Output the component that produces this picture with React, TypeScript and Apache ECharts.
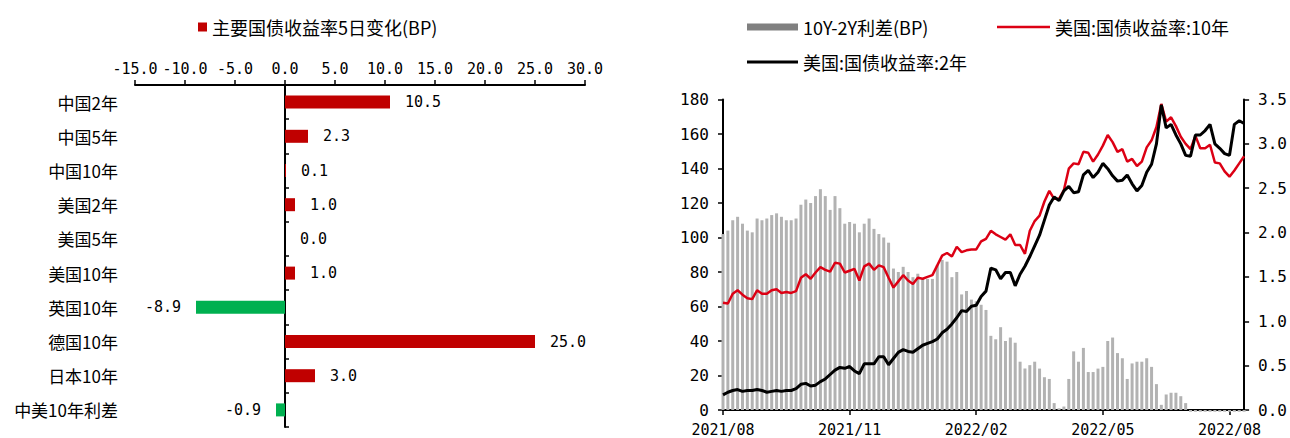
import React, { useEffect, useRef } from 'react';
import * as echarts from 'echarts';

// ---------- Left chart data ----------
const bondNames = ['中国2年', '中国5年', '中国10年', '美国2年', '美国5年', '美国10年', '英国10年', '德国10年', '日本10年', '中美10年利差'];
const bondChanges = [10.5, 2.3, 0.1, 1.0, 0.0, 1.0, -8.9, 25.0, 3.0, -0.9];

// ---------- Right chart data ----------
const dates = [
  '2021-08-02', '2021-08-05', '2021-08-09', '2021-08-12', '2021-08-16', '2021-08-19', '2021-08-23', '2021-08-26', '2021-08-30', '2021-09-02',
  '2021-09-06', '2021-09-09', '2021-09-13', '2021-09-16', '2021-09-20', '2021-09-23', '2021-09-27', '2021-09-30', '2021-10-04', '2021-10-07',
  '2021-10-11', '2021-10-14', '2021-10-18', '2021-10-21', '2021-10-25', '2021-10-28', '2021-11-01', '2021-11-04', '2021-11-08', '2021-11-11',
  '2021-11-15', '2021-11-18', '2021-11-22', '2021-11-25', '2021-11-29', '2021-12-02', '2021-12-06', '2021-12-09', '2021-12-13', '2021-12-16',
  '2021-12-20', '2021-12-23', '2021-12-27', '2021-12-30', '2022-01-03', '2022-01-06', '2022-01-10', '2022-01-13', '2022-01-17', '2022-01-20',
  '2022-01-24', '2022-01-27', '2022-02-01', '2022-02-03', '2022-02-07', '2022-02-10', '2022-02-14', '2022-02-17', '2022-02-21', '2022-02-24',
  '2022-02-28', '2022-03-03', '2022-03-07', '2022-03-10', '2022-03-14', '2022-03-17', '2022-03-21', '2022-03-24', '2022-03-28', '2022-03-31',
  '2022-04-04', '2022-04-07', '2022-04-11', '2022-04-14', '2022-04-18', '2022-04-21', '2022-04-25', '2022-04-28', '2022-05-02', '2022-05-05',
  '2022-05-09', '2022-05-12', '2022-05-16', '2022-05-19', '2022-05-23', '2022-05-26', '2022-05-30', '2022-06-02', '2022-06-06', '2022-06-09',
  '2022-06-13', '2022-06-16', '2022-06-20', '2022-06-23', '2022-06-27', '2022-06-30', '2022-07-04', '2022-07-07', '2022-07-11', '2022-07-14',
  '2022-07-18', '2022-07-21', '2022-07-25', '2022-07-28', '2022-08-01', '2022-08-04', '2022-08-08', '2022-08-11',
];

const us10y = [
  1.21, 1.20, 1.31, 1.35, 1.30, 1.26, 1.25, 1.35, 1.31, 1.31,
  1.35, 1.36, 1.32, 1.33, 1.32, 1.34, 1.49, 1.53, 1.48, 1.55,
  1.61, 1.58, 1.56, 1.66, 1.65, 1.55, 1.57, 1.59, 1.46, 1.62,
  1.65, 1.58, 1.63, 1.61, 1.49, 1.38, 1.45, 1.52, 1.46, 1.42,
  1.49, 1.48, 1.50, 1.52, 1.63, 1.74, 1.77, 1.73, 1.84, 1.78,
  1.80, 1.81, 1.81, 1.90, 1.93, 2.02, 1.98, 1.95, 1.92, 1.98,
  1.86, 1.86, 1.76, 2.02, 2.13, 2.19, 2.35, 2.47, 2.38, 2.38,
  2.48, 2.72, 2.78, 2.77, 2.91, 2.90, 2.80, 2.88, 2.98, 3.10,
  3.02, 2.91, 2.94, 2.80, 2.83, 2.75, 2.80, 2.96, 3.04, 3.19,
  3.45, 3.25, 3.30, 3.20, 3.08, 3.00, 2.94, 3.09, 2.95, 2.95,
  2.99, 2.79, 2.78, 2.69, 2.63, 2.70, 2.78, 2.86,
];

const us2y = [
  0.17, 0.20, 0.22, 0.23, 0.21, 0.22, 0.22, 0.23, 0.22, 0.20,
  0.21, 0.22, 0.21, 0.22, 0.22, 0.24, 0.29, 0.30, 0.27, 0.28,
  0.32, 0.35, 0.40, 0.45, 0.48, 0.47, 0.49, 0.44, 0.41, 0.52,
  0.52, 0.52, 0.60, 0.60, 0.51, 0.58, 0.65, 0.68, 0.66, 0.65,
  0.69, 0.73, 0.75, 0.77, 0.80, 0.87, 0.91, 0.97, 1.04, 1.12,
  1.11, 1.17, 1.18, 1.28, 1.34, 1.60, 1.58, 1.48, 1.55, 1.55,
  1.40, 1.53, 1.62, 1.73, 1.85, 1.97, 2.14, 2.31, 2.40, 2.36,
  2.47, 2.52, 2.45, 2.46, 2.65, 2.70, 2.62, 2.68, 2.78, 2.72,
  2.64, 2.58, 2.59, 2.65, 2.55, 2.47, 2.53, 2.68, 2.77, 3.00,
  3.44, 3.18, 3.22, 3.10, 3.00, 2.87, 2.86, 3.10, 3.10, 3.15,
  3.22, 3.00, 2.95, 2.89, 2.87, 3.22, 3.26, 3.23,
];

const spreadBp = [
  102, 104, 110, 112, 108, 104, 103, 111, 110, 111,
  113, 114, 112, 110, 110, 111, 119, 122, 120, 124,
  128, 124, 116, 124, 117, 108, 109, 108, 103, 108,
  111, 105, 102, 100, 97, 82, 80, 83, 80, 77,
  79, 76, 76, 76, 84, 87, 86, 77, 80, 67,
  69, 64, 63, 61, 58, 43, 41, 48, 40, 42,
  39, 28, 24, 26, 28, 24, 19, 18, 4, 1,
  2, 18, 34, 28, 36, 22, 22, 24, 25, 40,
  42, 33, 30, 18, 27, 28, 28, 30, 25, 15,
  3, 9, 10, 10, 8, 4, -1, -1, -1, -1,
  -1, -1, -1, -1, -1, -1, -1, -1,
];

const dateTicks = ['2021-08-02', '2021-11-01', '2022-02-01', '2022-05-02', '2022-08-01'];

const CJK = '"Noto Sans CJK SC", "Noto Sans", sans-serif';
const MONO = '"DejaVu Sans Mono", monospace';
const RED = '#C00000';
const GREEN = '#00B050';
const LINE_RED = '#DC0014';

const isTick = (_i: number, v: string) => dateTicks.indexOf(v) >= 0;

export default function App() {
  const ref = useRef<HTMLDivElement>(null);
  useEffect(() => {
    if (!ref.current) return;
    const chart = echarts.init(ref.current, null, { renderer: 'svg' });
    const axisLine = { show: true, lineStyle: { color: '#000', width: 2 } };
    const tickStyle = { color: '#000', width: 1.5 };
    const legendText = { fontFamily: CJK, fontSize: 18, color: '#000' };
    chart.setOption({
      animation: false,
      backgroundColor: '#fff',
      legend: [
        {
          left: 193, top: 13, itemWidth: 9, itemHeight: 9, icon: 'rect',
          data: ['主要国债收益率5日变化(BP)'],
          textStyle: legendText, selectedMode: false,
        },
        {
          left: 742, top: 13, itemWidth: 51, itemHeight: 7, icon: 'rect',
          data: [{ name: '10Y-2Y利差(BP)', itemStyle: { color: '#808080' } }],
          textStyle: legendText, selectedMode: false,
        },
        {
          left: 992, top: 13, itemWidth: 53, itemHeight: 2.5, icon: 'rect',
          data: [{ name: '美国:国债收益率:10年', itemStyle: { color: LINE_RED } }],
          textStyle: legendText, selectedMode: false,
        },
        {
          left: 742, top: 48, itemWidth: 51, itemHeight: 3, icon: 'rect',
          data: [{ name: '美国:国债收益率:2年', itemStyle: { color: '#000' } }],
          textStyle: legendText, selectedMode: false,
        },
      ],
      grid: [
        { left: 135, top: 85, width: 450, height: 342 },
        { left: 723, top: 99.5, width: 523, height: 310.5 },
      ],
      xAxis: [
        {
          type: 'value', gridIndex: 0, position: 'top', min: -15, max: 30, interval: 5,
          axisLine: { ...axisLine, onZero: false },
          axisTick: { show: true, length: 5, lineStyle: tickStyle },
          axisLabel: { margin: 9, formatter: (v: number) => v.toFixed(1), fontFamily: MONO, fontSize: 15, color: '#000' },
          splitLine: { show: false },
        },
        {
          type: 'category', gridIndex: 1, data: dates, boundaryGap: false,
          axisLine: axisLine,
          axisTick: { show: true, interval: isTick, length: 5, lineStyle: tickStyle },
          axisLabel: {
            interval: isTick, margin: 12, fontFamily: MONO, fontSize: 15, color: '#000',
            formatter: (v: string) => v.slice(0, 7).replace('-', '/'),
          },
          splitLine: { show: false },
        },
      ],
      yAxis: [
        {
          type: 'category', gridIndex: 0, data: bondNames, inverse: true,
          axisLine: { show: false, onZero: false },
          axisTick: { show: false },
          axisLabel: { margin: 17, fontFamily: CJK, fontSize: 17, color: '#000' },
        },
        {
          type: 'category', gridIndex: 0, data: bondNames, inverse: true,
          axisLine: { ...axisLine, onZero: true },
          axisTick: { show: true, length: 4, lineStyle: tickStyle },
          axisLabel: { show: false },
        },
        {
          type: 'value', gridIndex: 1, position: 'left', min: 0, max: 180, interval: 20,
          axisLine: axisLine,
          axisTick: { show: true, length: 5, lineStyle: tickStyle },
          axisLabel: { margin: 14, fontFamily: MONO, fontSize: 16, color: '#000' },
          splitLine: { show: false },
        },
        {
          type: 'value', gridIndex: 1, position: 'right', min: 0, max: 3.5, interval: 0.5,
          axisLine: axisLine,
          axisTick: { show: true, length: 5, lineStyle: tickStyle },
          axisLabel: { margin: 14, fontFamily: MONO, fontSize: 16, color: '#000', formatter: (v: number) => v.toFixed(1) },
          splitLine: { show: false },
        },
      ],
      series: [
        {
          name: '主要国债收益率5日变化(BP)', type: 'bar', xAxisIndex: 0, yAxisIndex: 0, barWidth: 13,
          itemStyle: { color: RED },
          data: bondChanges.map((v) => ({
            value: v,
            itemStyle: { color: v < 0 ? GREEN : RED },
            label: { position: v < 0 ? 'left' : 'right' },
          })),
          label: {
            show: true, distance: 15, fontFamily: MONO, fontSize: 15, color: '#000',
            formatter: (p: any) => Number(p.value).toFixed(1),
          },
        },
        {
          name: '10Y-2Y利差(BP)', type: 'bar', xAxisIndex: 1, yAxisIndex: 2, data: spreadBp,
          barWidth: 3, clip: false, itemStyle: { color: '#b2b2b2' },
        },
        {
          name: '美国:国债收益率:10年', type: 'line', xAxisIndex: 1, yAxisIndex: 3, data: us10y,
          symbol: 'none', showSymbol: false,
          lineStyle: { color: LINE_RED, width: 2.5 }, itemStyle: { color: LINE_RED },
        },
        {
          name: '美国:国债收益率:2年', type: 'line', xAxisIndex: 1, yAxisIndex: 3, data: us2y,
          symbol: 'none', showSymbol: false,
          lineStyle: { color: '#000', width: 3 }, itemStyle: { color: '#000' },
        },
      ],
    });
    return () => chart.dispose();
  }, []);
  return (
    <div style={{ position: 'fixed', left: 0, top: 0, width: 1290, height: 438, background: '#fff' }}>
      <div ref={ref} style={{ width: 1290, height: 438 }} />
    </div>
  );
}
